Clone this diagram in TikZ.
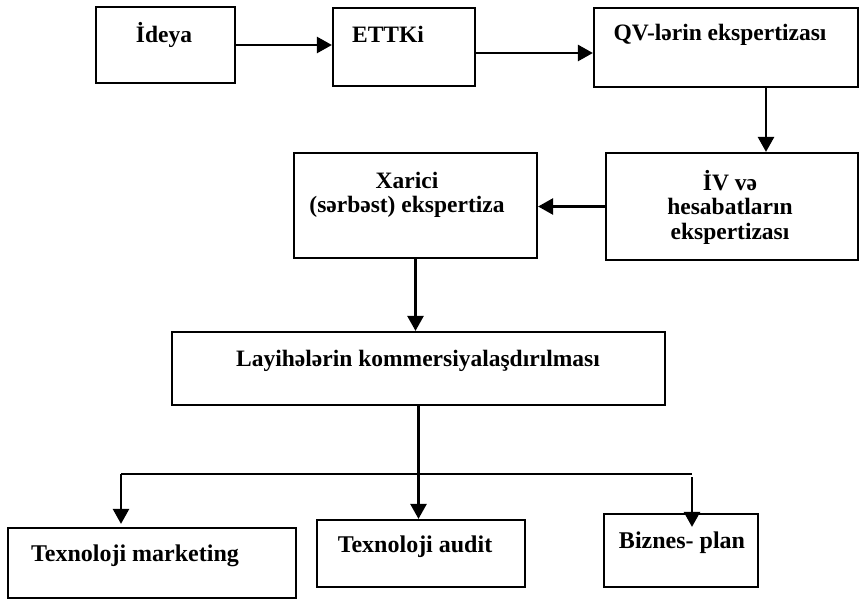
\documentclass[tikz,border=0pt]{standalone}
\usepackage{fontspec}
\setmainfont{Liberation Serif}
\usetikzlibrary{arrows.meta}

\begin{document}
\begin{tikzpicture}[x=1pt,y=-1pt,
    box/.style={draw,line width=2.2pt,inner sep=0pt},
    lbl/.style={font=\fontsize{23.5}{24.5}\selectfont\bfseries,align=center,inner sep=0pt},
    lblb/.style={font=\fontsize{24}{26}\selectfont\bfseries,inner sep=0pt},
    arr/.style={line width=2.6pt,-{Triangle[length=15pt,width=16pt]}}]
 \useasboundingbox (0,0) rectangle (868,599);
     % boxes of the first rows
     \node[box,minimum width=139,minimum height=76](ideya) at (165.5,45) {};
     \node[box,minimum width=142,minimum height=78](ettki) at (404,47) {};
     \node[box,minimum width=264,minimum height=79](qv) at (726,47.5) {};
     \node[box,minimum width=252,minimum height=107](iv) at (732,206.5) {};
     \node[box,minimum width=243,minimum height=105](xarici) at (415.5,205.5) {};
     \node[box,minimum width=493,minimum height=73](lay) at (418.5,368.5) {};
     % boxes of the last row
     \node[box,minimum width=288,minimum height=70](mk) at (152,563) {};
     \node[box,minimum width=208,minimum height=67](aud) at (421,553.5) {};
     \node[box,minimum width=154,minimum height=73](bz) at (681,550.5) {};
     % texts
     \node[lbl](tideya) at (164,35) {İdeya};
     \node[lbl](tettki) at (388,34) {ETTKi};
     \node[lbl](tqv) at (720,35) {QV-lərin ekspertizası};
     \node[lbl](txarici) at (407,195) {Xarici\\(sərbəst) ekspertiza};
     \node[lbl](tiv) at (730,207) {İV və\\hesabatların\\ekspertizası};
     \node[lbl](tlay) at (418,361) {Layihələrin kommersiyalaşdırılması};
     \node[lblb](tmk) at (135,556) {Texnoloji marketing};
     \node[lblb](taud) at (415,547) {Texnoloji audit};
     \node[lblb](tbz) at (682,543) {Biznes- plan};
     % arrows
     \draw[arr] (ideya.east) -- (ideya.east -| ettki.west);
     \draw[arr] (ettki.east |- 0,53) -- (qv.west |- 0,53);
     \draw[arr] (qv.south -| 766,0) -- (iv.north -| 766,0);
     \draw[arr] (iv.west) -- (iv.west -| xarici.east);
     \draw[arr] (xarici.south) -- (xarici.south |- lay.north);
     \draw[arr] (lay.south) -- (lay.south |- aud.north);
     \coordinate(bl) at (121,474);
     \coordinate(br) at (692,474);
     \draw[line width=2.6pt] (bl) -- (br);
     \draw[arr] (bl) -- ([yshift=3pt]bl |- mk.north);
     \draw[arr] ([yshift=-3pt]br) -- ([yshift=-14pt]br |- bz.north);
 \end{tikzpicture}
\end{document}
